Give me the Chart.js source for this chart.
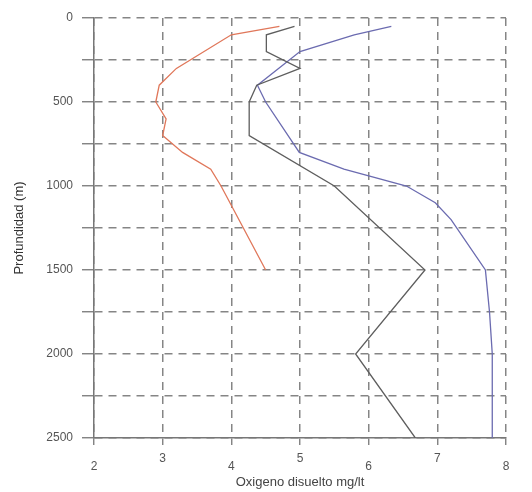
<!DOCTYPE html>
<html>
<head>
<meta charset="utf-8">
<script src="https://cdn.jsdelivr.net/npm/chart.js@4/dist/chart.umd.min.js"></script>
<style>
  html, body { margin: 0; padding: 0; background: #fff; }
  #wrap { width: 532px; height: 492px; }
</style>
</head>
<body>
<div id="wrap"><canvas id="oxChart"></canvas></div>
<script>
// profile 1 (orange)
const depthA = [50, 100, 300, 400, 500, 600, 700, 800, 900, 1000, 1500];
const oxA = [4.70, 4.00, 3.20, 2.95, 2.90, 3.05, 3.00, 3.29, 3.70, 3.85, 4.50];

// profile 2 (gray)
const depthB = [50, 100, 200, 300, 400, 500, 700, 1000, 1500, 2000, 2500];
const oxB = [4.92, 4.51, 4.51, 5.00, 4.37, 4.26, 4.26, 5.50, 6.82, 5.81, 6.68];

// profile 3 (blue)
const depthC = [50, 100, 200, 400, 500, 800, 900, 1000, 1100, 1200, 1500, 1750, 2000, 2500];
const oxC = [6.33, 5.79, 5.00, 4.38, 4.50, 4.99, 5.64, 6.55, 6.97, 7.20, 7.70, 7.76, 7.80, 7.80];

const xTitle = "Oxigeno disuelto mg/lt";
const yTitle = "Profundidad (m)";

const toPoints = (xs, ys) => xs.map((v, i) => ({ x: v, y: ys[i] }));

const fontFamily = "'Liberation Sans', Arial, sans-serif";

const lineSet = (xs, ys, color) => ({
  data: toPoints(xs, ys),
  showLine: true,
  borderColor: color,
  backgroundColor: color,
  borderWidth: 1.3,
  pointRadius: 0,
  tension: 0,
});

new Chart(document.getElementById("oxChart"), {
  type: "scatter",
  data: {
    datasets: [
      lineSet(oxA, depthA, "#e0775a"),
      lineSet(oxB, depthB, "#5e5e5e"),
      lineSet(oxC, depthC, "#6b6bb0"),
    ],
  },
  options: {
    responsive: true,
    maintainAspectRatio: false,
    animation: false,
    layout: { padding: { top: 18, right: 26, left: 0, bottom: 0 } },
    plugins: { legend: { display: false }, tooltip: { enabled: false } },
    scales: {
      x: {
        type: "linear",
        min: 2,
        max: 8,
        afterFit: (s) => { s.height = 54; },
        ticks: {
          stepSize: 1,
          color: "#555",
          padding: 3,
          // odd values sit a bit higher, like the original
          font: (ctx) => ({
            family: fontFamily,
            size: 12,
            lineHeight: ctx.tick && ctx.tick.value % 2 ? "22px" : "37px",
          }),
        },
        grid: {
          color: "#858585",
          lineWidth: 1.5,
          tickLength: 7,
          tickColor: "#777",
          tickWidth: 1.3,
          tickBorderDash: [],
        },
        border: { display: true, color: "#777", width: 1.5, dash: [8, 6] },
        title: {
          display: true,
          text: xTitle,
          color: "#444",
          font: { family: fontFamily, size: 13 },
          padding: { top: 0, bottom: 2 },
        },
      },
      y: {
        type: "linear",
        reverse: true,
        min: 0,
        max: 2500,
        afterFit: (s) => { s.width = 94; },
        ticks: {
          stepSize: 250,
          color: "#555",
          padding: 9,
          font: { family: fontFamily, size: 12 },
          callback: (v) => (v % 500 === 0 ? String(v) : ""),
        },
        grid: {
          color: "#858585",
          lineWidth: 1.5,
          tickLength: 12,
          tickColor: "#777",
          tickWidth: 1.3,
          tickBorderDash: [],
        },
        border: { display: true, color: "#777", width: 1.5, dash: [8, 6] },
        title: {
          display: true,
          text: yTitle,
          color: "#333",
          font: { family: fontFamily, size: 13 },
          padding: { top: 12, bottom: 0 },
        },
      },
    },
  },
});
</script>
</body>
</html>
